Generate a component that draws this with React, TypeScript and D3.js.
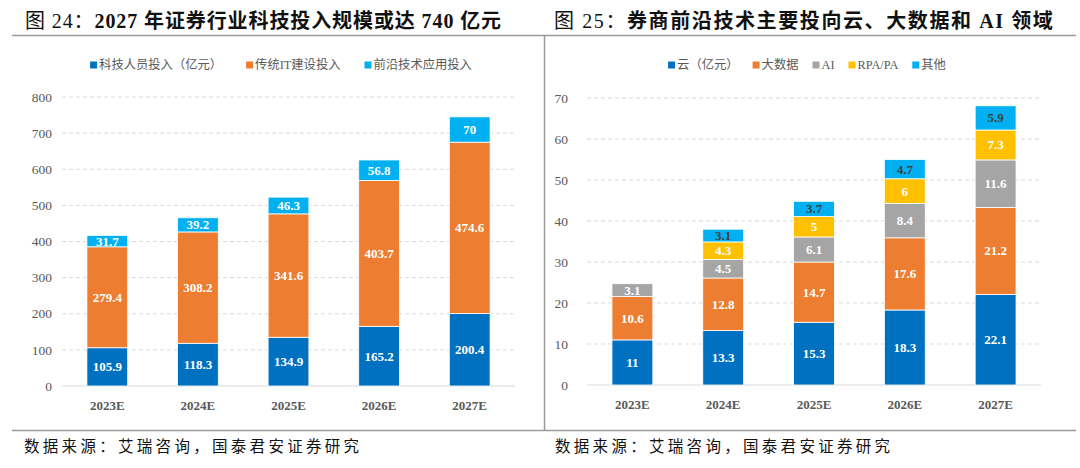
import React, { useEffect, useRef } from 'react';
import * as d3 from 'd3';

// ---------- Data ----------
const years = ['2023E', '2024E', '2025E', '2026E', '2027E'];

// 图24
const leftTitleA = '图 24：';
const leftTitleB = '2027 年证券行业科技投入规模或达 740 亿元';
const leftSeriesNames = ['科技人员投入（亿元）', '传统IT建设投入', '前沿技术应用投入'];
const staffInvest = [105.9, 118.3, 134.9, 165.2, 200.4];
const itInvest = [279.4, 308.2, 341.6, 403.7, 474.6];
const frontierInvest = [31.7, 39.2, 46.3, 56.8, 70];
const leftTicks = [0, 100, 200, 300, 400, 500, 600, 700, 800];

// 图25
const rightTitleA = '图 25：';
const rightTitleB = '券商前沿技术主要投向云、大数据和 AI 领域';
const rightSeriesNames = ['云（亿元）', '大数据', 'AI', 'RPA/PA', '其他'];
const cloud = [11, 13.3, 15.3, 18.3, 22.1];
const bigData = [10.6, 12.8, 14.7, 17.6, 21.2];
const aiInvest = [3.1, 4.5, 6.1, 8.4, 11.6];
const rpa = [0, 4.3, 5, 6, 7.3];
const others = [0, 3.1, 3.7, 4.7, 5.9];
const rightTicks = [0, 10, 20, 30, 40, 50, 60, 70];

const sourceText = '数据来源：艾瑞咨询，国泰君安证券研究';

const BLUE = '#0070C0';
const ORANGE = '#ED7D31';
const GRAY = '#A5A5A5';
const YELLOW = '#FFC000';
const CYAN = '#00B0F0';

const SERIF = '"Liberation Serif", "Times New Roman", "Noto Sans CJK SC", serif';
const CJK = '"Liberation Serif", "Noto Sans CJK SC", serif';

interface PanelCfg {
  series: number[][];
  names: string[];
  colors: string[];
  labelColors: string[];
  ticks: number[];
  yMax: number;
  x0: number;
  x1: number;
  yTop: number;
  yBottom: number;
  tickRight: number;
  legendCenter: number;
  legendGap: number;
  title: [string, string];
  titleX: number;
  titleSpacing: number;
  sourceX: number;
}

function drawPanel(svg: d3.Selection<SVGSVGElement, unknown, null, undefined>, cfg: PanelCfg) {
  const g = svg.append('g');
  const x = d3.scaleBand<string>().domain(years).range([cfg.x0, cfg.x1]).paddingInner(0.55).paddingOuter(0.275);
  const y = d3.scaleLinear().domain([0, cfg.yMax]).range([cfg.yBottom, cfg.yTop]);

  // title
  const t = g.append('text').attr('x', cfg.titleX).attr('y', 28).attr('font-family', CJK)
    .attr('font-size', 20).attr('letter-spacing', cfg.titleSpacing).attr('fill', '#111');
  t.append('tspan').text(cfg.title[0]);
  t.append('tspan').attr('font-weight', 'bold').text(cfg.title[1]);

  // grid
  cfg.ticks.forEach((v) => {
    if (v === 0) return;
    g.append('line')
      .attr('x1', cfg.x0).attr('x2', cfg.x1)
      .attr('y1', y(v)).attr('y2', y(v))
      .attr('stroke', '#D9D9D9').attr('stroke-width', 1).attr('stroke-dasharray', '4,3');
  });
  g.append('line')
    .attr('x1', cfg.x0).attr('x2', cfg.x1)
    .attr('y1', y(0)).attr('y2', y(0))
    .attr('stroke', '#D9D9D9').attr('stroke-width', 1.2);

  // y tick labels
  cfg.ticks.forEach((v) => {
    g.append('text')
      .attr('x', cfg.tickRight).attr('y', y(v))
      .attr('dy', '0.35em').attr('text-anchor', 'end')
      .attr('font-family', SERIF).attr('font-size', 13.5).attr('fill', '#595959')
      .text(v);
  });

  // x labels
  years.forEach((yr) => {
    g.append('text')
      .attr('x', (x(yr) as number) + x.bandwidth() / 2).attr('y', cfg.yBottom + 19)
      .attr('dy', '0.35em').attr('text-anchor', 'middle')
      .attr('font-family', SERIF).attr('font-size', 13).attr('font-weight', 'bold').attr('fill', '#595959')
      .text(yr);
  });

  // stacked bars
  const rows = years.map((yr, i) => {
    const r: any = { year: yr };
    cfg.series.forEach((s, k) => (r['s' + k] = s[i]));
    return r;
  });
  const stack = d3.stack<any>().keys(cfg.series.map((_, k) => 's' + k));
  const layers = stack(rows);
  layers.forEach((layer, k) => {
    layer.forEach((d) => {
      const v = d[1] - d[0];
      if (v <= 0) return;
      const xx = x(d.data.year) as number;
      g.append('rect')
        .attr('x', xx).attr('width', x.bandwidth())
        .attr('y', y(d[1])).attr('height', y(d[0]) - y(d[1]))
        .attr('fill', cfg.colors[k]).attr('stroke', '#ffffff').attr('stroke-width', 0.8);
      g.append('text')
        .attr('x', xx + x.bandwidth() / 2).attr('y', (y(d[0]) + y(d[1])) / 2)
        .attr('dy', '0.35em').attr('text-anchor', 'middle')
        .attr('font-family', SERIF).attr('font-size', 13).attr('font-weight', 'bold')
        .attr('fill', cfg.labelColors[k])
        .text(String(v.toFixed(1)).replace(/\.0$/, ''));
    });
  });

  // legend
  const lg = g.append('g');
  let cx = 0;
  cfg.names.forEach((name, k) => {
    const it = lg.append('g').attr('transform', `translate(${cx},0)`);
    it.append('rect').attr('x', 0).attr('y', 61.5).attr('width', 7).attr('height', 7).attr('fill', cfg.colors[k]);
    const tx = it.append('text').attr('x', 9).attr('y', 65).attr('dy', '0.35em')
      .attr('font-family', CJK).attr('font-size', 12.3).attr('fill', '#595959').text(name);
    const w = (tx.node() as SVGTextElement).getComputedTextLength();
    cx += 9 + w + cfg.legendGap;
  });
  const total = cx - cfg.legendGap;
  lg.attr('transform', `translate(${cfg.legendCenter - total / 2},0)`);

  // source
  g.append('text').attr('x', cfg.sourceX).attr('y', 447).attr('dy', '0.35em')
    .attr('font-family', CJK).attr('font-size', 15.5).attr('fill', '#111').attr('letter-spacing', 3.3)
    .text(sourceText);
}

export default function App() {
  const ref = useRef<SVGSVGElement>(null);
  useEffect(() => {
    if (!ref.current) return;
    const svg = d3.select(ref.current);
    svg.selectAll('*').remove();
    svg.append('rect').attr('width', 1080).attr('height', 468).attr('fill', '#fff');

    // frame lines
    svg.append('line').attr('x1', 12).attr('x2', 1076).attr('y1', 35.5).attr('y2', 35.5).attr('stroke', '#9a9a9a').attr('stroke-width', 1.5);
    svg.append('line').attr('x1', 12).attr('x2', 1076).attr('y1', 430.5).attr('y2', 430.5).attr('stroke', '#9a9a9a').attr('stroke-width', 1.5);
    svg.append('line').attr('x1', 544.5).attr('x2', 544.5).attr('y1', 35).attr('y2', 431).attr('stroke', '#9a9a9a').attr('stroke-width', 1.5);

    drawPanel(svg as any, {
      series: [staffInvest, itInvest, frontierInvest],
      names: leftSeriesNames,
      colors: [BLUE, ORANGE, CYAN],
      labelColors: ['#fff', '#fff', '#fff'],
      ticks: leftTicks,
      yMax: 800,
      x0: 62, x1: 515,
      yTop: 97, yBottom: 386,
      tickRight: 52,
      legendCenter: 281,
      legendGap: 24,
      title: [leftTitleA, leftTitleB],
      titleX: 25,
      titleSpacing: 0.9,
      sourceX: 24,
    });
    drawPanel(svg as any, {
      series: [cloud, bigData, aiInvest, rpa, others],
      names: rightSeriesNames,
      colors: [BLUE, ORANGE, GRAY, YELLOW, CYAN],
      labelColors: ['#fff', '#fff', '#fff', '#fff', '#404040'],
      ticks: rightTicks,
      yMax: 70,
      x0: 587, x1: 1041,
      yTop: 98, yBottom: 385,
      tickRight: 568,
      legendCenter: 807,
      legendGap: 14,
      title: [rightTitleA, rightTitleB],
      titleX: 554,
      titleSpacing: 1.6,
      sourceX: 555,
    });
  }, []);
  return (
    <svg ref={ref} width={1080} height={468} style={{ position: 'absolute', left: 0, top: 0, display: 'block' }} />
  );
}
